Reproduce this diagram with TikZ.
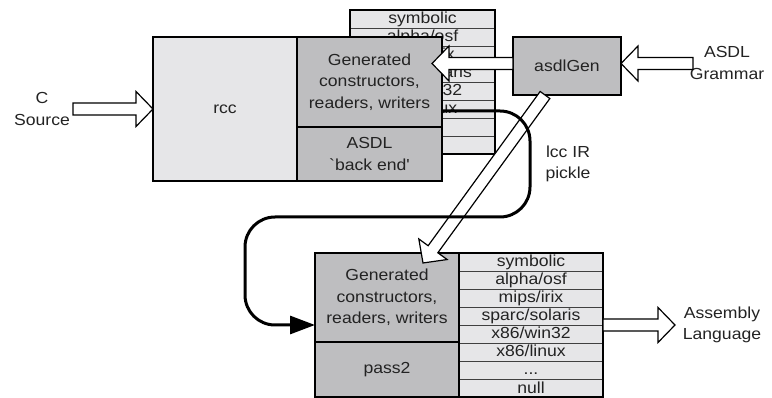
\documentclass[tikz,border=0pt]{standalone}
\usepackage{fontspec}
\newfontfamily\lab{Liberation Sans}[FakeStretch=1.1]
\usetikzlibrary{calc,arrows.meta}
\definecolor{boxdark}{RGB}{190,190,192}
\definecolor{boxlight}{RGB}{230,230,232}
\definecolor{ink}{RGB}{35,35,35}
\newcommand\stackrow[3]{\node[rowtxt] (#1r#2) at ($(#1.north)+(0,18*#2-9)$) {#3};}
\newcommand\hollowarrow[2]{%
  \coordinate (ha) at (#1);
  \coordinate (hb) at (#2);
  \coordinate (hh) at ($(hb)!17pt!(ha)$);
  \filldraw[hollow] ($(ha)!6pt!90:(hb)$) -- ($(hh)!6pt!90:(hb)$) -- ($(hh)!17.5pt!90:(hb)$) -- (hb)
     -- ($(hh)!17.5pt!-90:(hb)$) -- ($(hh)!6pt!-90:(hb)$) -- ($(ha)!6pt!-90:(hb)$) -- cycle;}
\newcommand\liststack[1]{%
  \foreach \i in {1,...,7} {\draw[rowline] ($(#1.north west)+(0,18*\i)$) -- ($(#1.north east)+(0,18*\i)$);}
  \stackrow{#1}{1}{symbolic}
  \stackrow{#1}{2}{alpha/osf}
  \stackrow{#1}{3}{mips/irix}
  \stackrow{#1}{4}{sparc/solaris}
  \stackrow{#1}{5}{x86/win32}
  \stackrow{#1}{6}{x86/linux}
  \stackrow{#1}{7}{...}
  \stackrow{#1}{8}{null}
  \draw[line width=2.6pt] (#1.north west) rectangle (#1.south east);}
\begin{document}
\begin{tikzpicture}[x=1pt,y=-1pt,
  box/.style={draw=black,line width=2.6pt,anchor=north west,inner sep=0pt,outer sep=0pt,
    align=center,text=ink,font=\lab\fontsize{16}{21.5}\selectfont},
  dark/.style={box,fill=boxdark},
  light/.style={box,fill=boxlight},
  lbl/.style={align=center,text=ink,inner sep=0pt,font=\lab\fontsize{16}{21.5}\selectfont},
  rowtxt/.style={text=ink,inner sep=0pt,text height=12pt,text depth=2pt,font=\lab\fontsize{16}{18}\selectfont},
  rowline/.style={draw=black!75,line width=0.8pt},
  hollow/.style={draw=black,fill=white,line width=1.2pt,line join=miter},
  pipe/.style={draw=black,line width=3pt,rounded corners=30pt,-{Triangle[length=25pt,width=18pt]}},
]
\useasboundingbox (0,0) rectangle (772,398);

% upper (partly hidden) target list
\node[light,minimum width=145,minimum height=144] (tStack) at (350,10) {};
\liststack{tStack}

% rcc composite
\node[light,minimum width=144,minimum height=144] (rcc) at (153,37) {rcc};
\node[dark,minimum width=145,minimum height=90] (tGen) at (297,37) {Generated\\constructors,\\readers, writers};
\node[dark,minimum width=145,minimum height=54] (asdlBE) at (297,127) {ASDL\\`back end'};

% asdlGen
\node[dark,minimum width=108,minimum height=58] (asdlGen) at (513,37) {asdlGen};

% pass2 composite
\node[dark,minimum width=144,minimum height=89] (bGen) at (315,253) {Generated\\constructors,\\readers, writers};
\node[dark,minimum width=144,minimum height=55] (pass2) at (315,342) {pass2};
\node[light,minimum width=144,minimum height=144] (bStack) at (459,253) {};
\liststack{bStack}

% labels
\node[lbl] (csrc) at (42,109) {C\\Source};
\node[lbl] (gram) at (727,63) {ASDL\\Grammar};
\node[lbl] (asm) at (722,325) {Assembly\\Language};
\node[lbl] (pickle) at (568,164) {lcc IR\\pickle};

% free ends of the hollow arrows
\coordinate (csrcEnd) at (73,109);
\coordinate (gramEnd) at (693,63.5);
\coordinate (asmEnd) at (675,325);
\coordinate (genTip) at ($(tGen.east)+(-10,-18.5)$);
\coordinate (asdlGenW) at ($(asdlGen.west)+(0,-2.5)$);
\coordinate (asdlGenE) at ($(asdlGen.east)+(0,-2.5)$);
\coordinate (diagStart) at ($(asdlGen.south)+(-22,0)$);
\coordinate (diagTip) at ($(bGen.north)+(36,10)$);

\hollowarrow{csrcEnd}{rcc.west}
\hollowarrow{gramEnd}{asdlGenE}
\hollowarrow{asdlGenW}{genTip}
\hollowarrow{bStack.east |- asmEnd}{asmEnd}
\hollowarrow{diagStart}{diagTip}

% lcc IR pickle path
\coordinate (pStart) at ($(tGen.south east)+(0,-16)$);
\coordinate (pEnd) at ($(bGen.south west)+(0,-17)$);
\draw[pipe] (pStart) -- (530,111) -- (530,217) -- (245,217) -- (245,325) -- (pEnd);
\end{tikzpicture}
\end{document}
